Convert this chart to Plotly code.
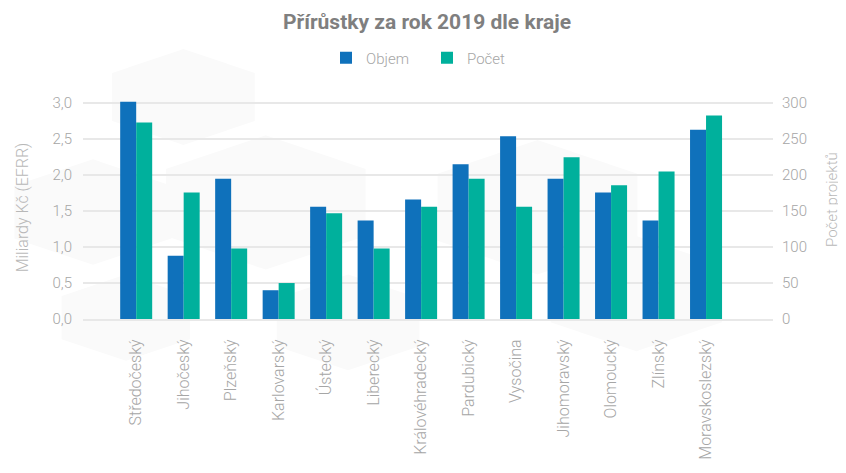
import math
import plotly.graph_objects as go

kraje = ["Středočeský", "Jihočeský", "Plzeňský", "Karlovarský", "Ústecký", "Liberecký",
         "Královéhradecký", "Pardubický", "Vysočina", "Jihomoravský", "Olomoucký",
         "Zlínský", "Moravskoslezský"]
objem = [3.02, 0.88, 1.95, 0.40, 1.56, 1.37, 1.66, 2.15, 2.54, 1.95, 1.76, 1.37, 2.63]
pocet = [273, 176, 98, 50, 147, 98, 156, 195, 156, 225, 186, 205, 283]

left_ticks = [0, 0.5, 1, 1.5, 2, 2.5, 3]
right_ticks = [0, 50, 100, 150, 200, 250, 300]

BLUE = "#0f71bb"
TEAL = "#00b09c"
GRID = "#e8e8e8"
TXT = "#a6a6a6"
FONT = "Roboto"

# the page body has an 8px margin, so the figure is sized to fit the window
W, H = 838, 465
ML, MR, MT, MB = 75, 73, 88, 154

fig = go.Figure()
fig.add_trace(go.Bar(name="Objem", x=kraje, y=objem, marker_color=BLUE,
                     marker_line_width=0, offsetgroup="a", yaxis="y"))
fig.add_trace(go.Bar(name="Počet", x=kraje, y=pocet, marker_color=TEAL,
                     marker_line_width=0, offsetgroup="b", yaxis="y2"))

fig.update_layout(
    width=W, height=H,
    paper_bgcolor="white", plot_bgcolor="rgba(0,0,0,0)",
    separators=", ",
    margin=dict(l=ML, r=MR, t=MT, b=MB, autoexpand=False),
    barmode="group", bargap=0.326, bargroupgap=0,
    title=dict(text="<b>Přírůstky za rok 2019 dle kraje</b>", x=0.5, xanchor="center",
               xref="container", yref="container", y=1 - 14 / H, yanchor="middle",
               font=dict(family=FONT, size=21, color="#7f7f7f")),
    legend=dict(orientation="h", x=0.5, xanchor="center", xref="container",
                yref="container", y=1 - 50 / H, yanchor="middle",
                font=dict(family=FONT, size=15, color=TXT, weight=300),
                entrywidth=56, traceorder="normal", itemwidth=30),
    showlegend=True,
    xaxis=dict(type="category", range=[-1.12, 13.41], showgrid=False,
               tickangle=-90, tickfont=dict(family=FONT, size=16, color=TXT, weight=300),
               ticks="", ticklabelstandoff=12, showline=True, linecolor=GRID, linewidth=2),
    yaxis=dict(range=[0, 3.1], tickvals=left_ticks, tickformat=".1f",
               showgrid=True, gridcolor=GRID, gridwidth=2, zeroline=False,
               tickfont=dict(family=FONT, size=15, color=TXT, weight=300),
               ticklabelstandoff=10,
               title=dict(text="Miliardy Kč (EFRR)", standoff=19,
                          font=dict(family=FONT, size=16, color="#b8b8b8", weight=300))),
    yaxis2=dict(range=[0, 310], tickvals=right_ticks, overlaying="y", side="right",
                showgrid=False, zeroline=False,
                tickfont=dict(family=FONT, size=15, color=TXT, weight=300),
                ticklabelstandoff=8),
)

# right axis title as a rotated annotation (placed like the reference)
pw, ph = W - ML - MR, H - MT - MB
fig.add_annotation(text="Počet projektů", textangle=-90, showarrow=False,
                   xref="paper", yref="paper",
                   x=(824 - ML) / pw, y=(H - MB - 192) / ph,
                   xanchor="center", yanchor="middle",
                   font=dict(family=FONT, size=15, color="#b8b8b8", weight=300))

# faint hexagon background decoration (pixel positions of the window, minus body margin)
def hex_path(cx, cy, r):
    pts = []
    for k in range(6):
        a = math.radians(60 * k)
        px = cx + r * math.sin(a) - 8
        py = cy - r * math.cos(a) - 8
        pts.append((px / W, 1 - py / H))
    return "M " + " L ".join(f"{x:.4f},{y:.4f}" for x, y in pts) + " Z"

hexes = [(130, 10, 100), (230, 230, 140), (20, 250, 110), (560, 240, 140),
         (680, 420, 120), (330, 480, 100), (60, 470, 90)]
fig.update_layout(shapes=[dict(type="path", xref="paper", yref="paper", layer="below",
                               path=hex_path(*h), fillcolor="#fafafa", line_width=0)
                          for h in hexes])

fig.write_html("out.html")
